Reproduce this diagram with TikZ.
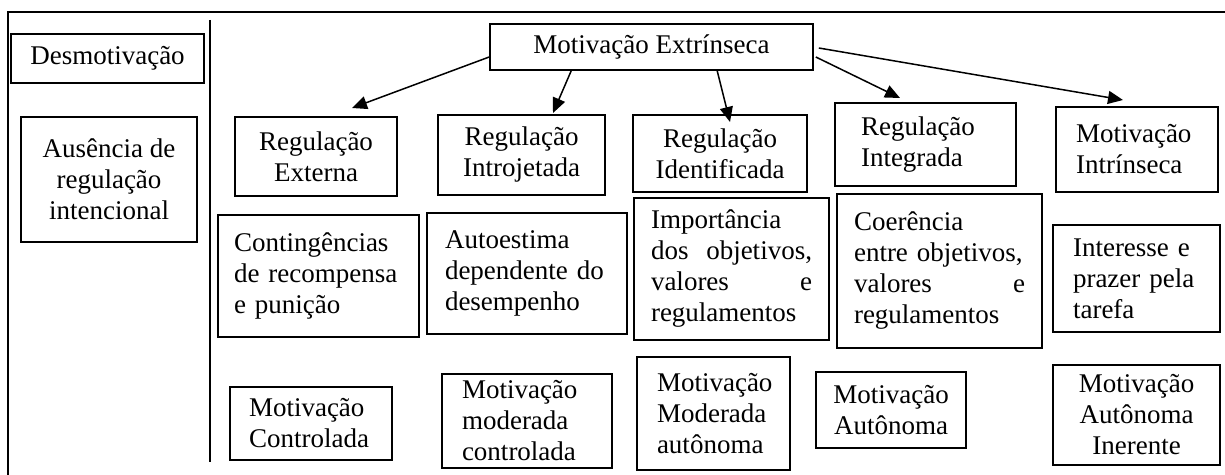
\documentclass[tikz,border=0pt]{standalone}
\usepackage{fontspec}
\setmainfont{Liberation Serif}
\usetikzlibrary{arrows.meta,calc}
\hyphenpenalty=10000\relax
\exhyphenpenalty=10000\relax
\tikzset{
  bx/.style={draw, line width=0.8pt, inner sep=0pt, font=\fontsize{13.5}{15.5}\selectfont},
  cbox/.style={bx, align=center},
  lbox/.style={bx, align=left},
  arr/.style={line width=0.75pt, -{Triangle[length=7.5pt,width=6.5pt]}},
  frame/.style={line width=1.2pt},
  sep/.style={line width=0.8pt}
}
\begin{document}
\begin{tikzpicture}[x=0.5pt,y=-0.5pt]
\useasboundingbox (0,0) rectangle (1225,475);
% frame and separator
\draw[frame] (8,475) -- (8,12) -- (1225,12);
\draw[sep] (210,20) -- (210,462);
% left column
\node[cbox, minimum width=96.5pt, minimum height=24.5pt] (des) at (107.5,58.5) {Desmotiva\c{c}\~ao};
\node[cbox, minimum width=88pt, minimum height=62.5pt] (aus) at (109,179.5) {Aus\^encia de\\regula\c{c}\~ao\\intencional};
% top
\node[cbox, minimum width=161.5pt, minimum height=23pt] (ext) at (651.5,47) {Motiva\c{c}\~ao Extr\'{\i}nseca};
% row 1
\node[cbox, minimum width=81pt, minimum height=39.5pt] (rext) at (316,156.5) {Regula\c{c}\~ao\\Externa};
\node[cbox, minimum width=83.5pt, minimum height=40pt] (rintro) at (521.5,155) {Regula\c{c}\~ao\\Introjetada};
\node[cbox, minimum width=87pt, minimum height=38.5pt] (rident) at (720,153.5) {Regula\c{c}\~ao\\Identificada};
\node[lbox, minimum width=90.5pt, minimum height=41.5pt, inner xsep=13pt, text width=64.5pt] (rinteg) at (925.5,144.5) {Regula\c{c}\~ao\\Integrada};
\node[lbox, minimum width=81pt, minimum height=42.5pt, inner xsep=10pt, text width=61pt] (mintr) at (1137,149.5) {Motiva\c{c}\~ao\\Intr\'{\i}nseca};
% row 2
\node[lbox, minimum width=100.5pt, minimum height=61pt, inner xsep=8pt, text width=84.5pt] (cont) at (318.5,276) {Conting\^encias\\de recompensa\\e puni\c{c}\~ao};
\node[lbox, minimum width=100pt, minimum height=60.5pt, inner xsep=9pt, text width=82pt] (auto) at (527,273.5) {Autoestima\\dependente do\\desempenho};
\node[lbox, minimum width=97.5pt, minimum height=71pt, inner xsep=8.5pt, text width=80.5pt] (imp) at (731.5,269) {Import\^ancia\\dos\hfill objetivos,\\valores\hfill e\\regulamentos};
\node[lbox, minimum width=102.5pt, minimum height=77pt, inner xsep=8.5pt, text width=85.5pt] (coer) at (939.5,271) {Coer\^encia\\entre objetivos,\\valores\hfill e\\regulamentos};
\node[lbox, minimum width=83.5pt, minimum height=53.5pt, inner xsep=10pt, text width=63.5pt] (inter) at (1136.5,278.5) {Interesse e\\prazer pela\\tarefa};
% row 3
\node[lbox, minimum width=81pt, minimum height=36.5pt, inner xsep=9.5pt, text width=62pt] (mctrl) at (311,423.5) {Motiva\c{c}\~ao\\Controlada};
\node[lbox, minimum width=85pt, minimum height=47pt, inner xsep=10pt, text width=65pt] (mmodc) at (527,421) {Motiva\c{c}\~ao\\moderada\\controlada};
\node[lbox, minimum width=76.5pt, minimum height=56.5pt, inner xsep=10pt, text width=56.5pt] (mmoda) at (713.5,413.5) {Motiva\c{c}\~ao\\Moderada\\aut\^onoma};
\node[cbox, minimum width=75pt, minimum height=38pt] (maut) at (891,410) {Motiva\c{c}\~ao\\Aut\^onoma};
\node[cbox, minimum width=83.5pt, minimum height=50pt] (minr) at (1136.5,415) {Motiva\c{c}\~ao\\Aut\^onoma\\Inerente};
% arrow tips
\coordinate (t1) at (352,108);
\coordinate (t2) at (553,113);
\coordinate (t3) at (730,122);
\coordinate (t4) at (900,98);
\coordinate (t5) at (1123,100);
\draw[arr] ($(ext.west)+(0,10)$) -- (t1);
\draw[arr] ($(ext.south west)+(82,0)$) -- (t2);
\draw[arr] ($(ext.south west)+(228,0)$) -- (t3);
\draw[arr] ($(ext.east)+(2,10)$) -- (t4);
\draw[arr] ($(ext.east)+(5,1)$) -- (t5);
\end{tikzpicture}
\end{document}
